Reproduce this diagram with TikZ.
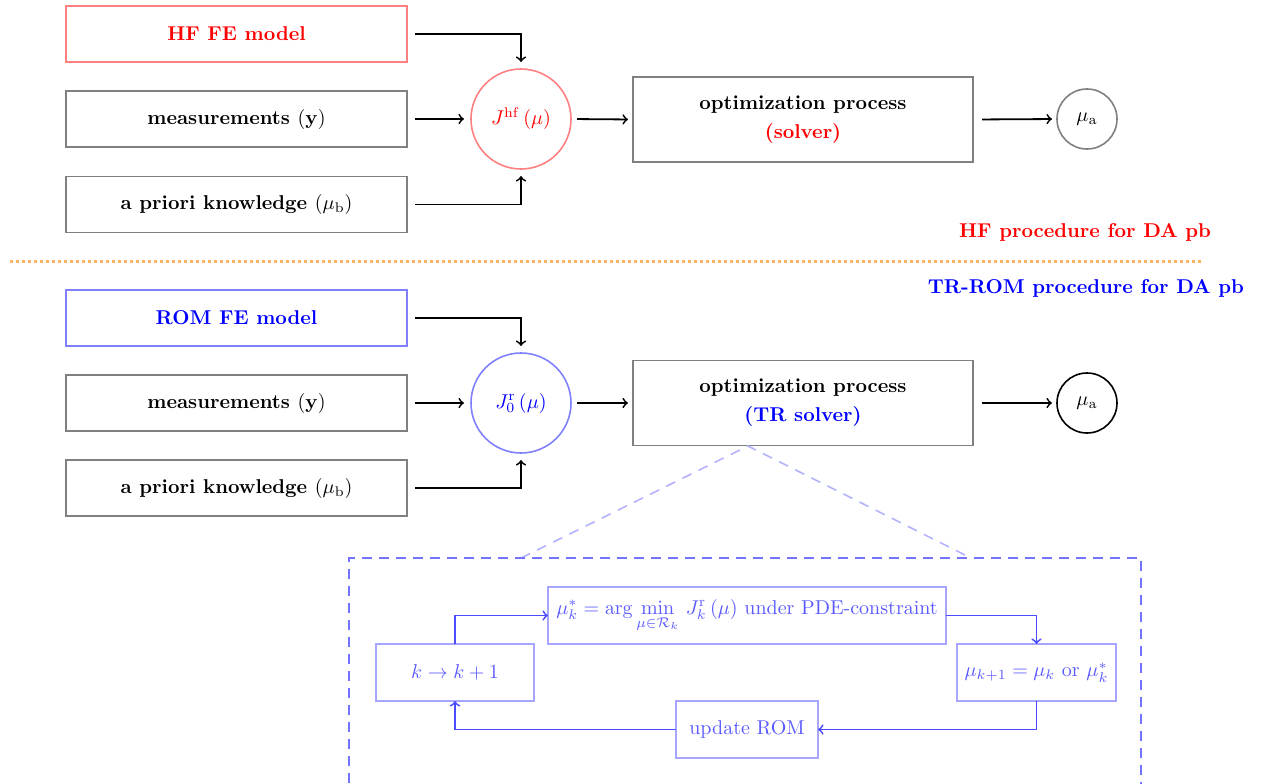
\documentclass[tikz,border=0pt]{standalone}
\usetikzlibrary{calc}
\begin{document}
\begin{tikzpicture}[x=0.5pt,y=-0.5pt,
  box/.style={draw=black!50,thick,minimum width=170.5pt,minimum height=28pt,inner sep=0pt,outer sep=0pt,font=\bfseries},
  optbox/.style={draw=black!50,thick,minimum width=170pt,minimum height=42.5pt,inner sep=0pt,outer sep=0pt,font=\bfseries,align=center},
  jcirc/.style={circle,thick,minimum size=50pt,inner sep=0pt,outer sep=0pt},
  acirc/.style={circle,thick,minimum size=30pt,inner sep=0pt,outer sep=0pt},
  arr/.style={->,line width=0.9pt,black},
  ibox/.style={draw=blue!35,line width=0.9pt,inner sep=0pt,outer sep=0pt,text=blue!65,minimum height=28.5pt},
  iarr/.style={->,line width=0.9pt,blue!70},
  lbl/.style={font=\bfseries,anchor=east}
]
\useasboundingbox (0,0) rectangle (1271,783);
% ---------- HF part ----------
\node[box,draw=red!50,text=red] (hf) at (236.5,34) {HF FE model};
\node[box] (m1) at (236.5,119) {measurements $(\mathbf{y})$};
\node[box] (p1) at (236.5,204.5) {a priori knowledge $(\mu_{\mathrm{b}})$};
\node[jcirc,draw=red!50,text=red] (j1) at (521,119) {$J^{\mathrm{hf}}\left(\mu\right)$};
\node[optbox] (o1) at (803,119.5) {optimization process\\[2.5pt]\textcolor{red}{(solver)}};
\node[acirc,draw=black!50] (a1) at (1087,119) {$\mu_{\mathrm{a}}$};
\draw[arr,shorten <=4pt,shorten >=3.5pt] (hf.east) -| (j1.north);
\draw[arr,shorten <=4pt,shorten >=3.5pt] (m1.east) -- (j1.west);
\draw[arr,shorten <=4pt,shorten >=3.5pt] (p1.east) -| (j1.south);
\draw[arr,shorten <=3pt,shorten >=2.5pt] (j1.east) -- (o1.west);
\draw[arr,shorten <=4.5pt,shorten >=2.5pt] (o1.east) -- (a1.west);
\node[lbl,text=red] (hflbl) at (1218,232) {HF procedure for DA pb};
% separator
\coordinate (s1) at (10,261);
\coordinate (s2) at (1202,261);
\draw[orange!60,line width=1.5pt,dash pattern=on 1.5pt off 1.5pt] (s1) -- (s2);
\node[lbl,text=blue] (romlbl) at (1251,288) {TR-ROM procedure for DA pb};
% ---------- ROM part ----------
\node[box,draw=blue!50,text=blue] (rom) at (236.5,318) {ROM FE model};
\node[box] (m2) at (236.5,403) {measurements $(\mathbf{y})$};
\node[box] (p2) at (236.5,488) {a priori knowledge $(\mu_{\mathrm{b}})$};
\node[jcirc,draw=blue!50,text=blue] (j2) at (521,403) {$J^{\mathrm{r}}_0\left(\mu\right)$};
\node[optbox] (o2) at (803,403) {optimization process\\[2.5pt]\textcolor{blue}{(TR solver)}};
\node[acirc,draw=black] (a2) at (1087,403) {$\mu_{\mathrm{a}}$};
\draw[arr,shorten <=4pt,shorten >=3.5pt] (rom.east) -| (j2.north);
\draw[arr,shorten <=4pt,shorten >=3.5pt] (m2.east) -- (j2.west);
\draw[arr,shorten <=4pt,shorten >=3.5pt] (p2.east) -| (j2.south);
\draw[arr,shorten <=3pt,shorten >=2.5pt] (j2.east) -- (o2.west);
\draw[arr,shorten <=4.5pt,shorten >=2.5pt] (o2.east) -- (a2.west);
% zoom lines
\coordinate (zt) at (748,446);
\coordinate (zl) at (521,558);
\coordinate (zr) at (971,558);
\draw[blue!30,thick,dash pattern=on 5pt off 4pt] (zl) -- (zt) -- (zr);
% dashed frame
\coordinate (f1) at (349,800);
\coordinate (f2) at (349,558);
\coordinate (f3) at (1141,558);
\coordinate (f4) at (1141,800);
\draw[blue!55,line width=0.9pt,dash pattern=on 5pt off 3.5pt] (f1) -- (f2) -- (f3) -- (f4);
% inner loop
\node[ibox,minimum width=79pt] (kk) at (455,672.5) {$k\rightarrow k+1$};
\node[ibox,minimum width=199pt] (am) at (747,615.5) {$\mu_k^{*}=\arg\min\limits_{\mu\in\mathcal{R}_k}\,J_k^{\mathrm{r}}\left(\mu\right)$ under PDE-constraint};
\node[ibox,minimum width=79.5pt] (mk) at (1036.5,672.5) {$\mu_{k+1}=\mu_k$ or $\mu_k^{*}$};
\node[ibox,minimum width=71pt] (up) at (747,729.5) {update ROM};
\draw[iarr] (kk.north) |- (am.west);
\draw[iarr] (am.east) -| (mk.north);
\draw[iarr] (mk.south) |- (up.east);
\draw[iarr] (up.west) -| (kk.south);
\end{tikzpicture}
\end{document}
